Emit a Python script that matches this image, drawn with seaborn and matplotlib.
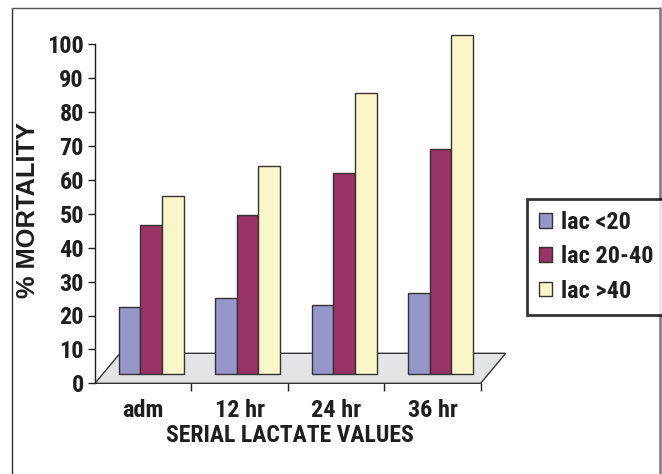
import matplotlib
matplotlib.use("Agg")
import matplotlib.pyplot as plt
from matplotlib.patches import Polygon, Patch
from matplotlib.lines import Line2D
import seaborn as sns
import pandas as pd

# ---- data -------------------------------------------------------------
categories = ["adm", "12 hr", "24 hr", "36 hr"]
groups = ["lac <20", "lac 20-40", "lac >40"]
lac_lt20 = [20, 22.5, 20.5, 24]
lac_20_40 = [44, 47, 59.5, 66.5]
lac_gt40 = [52.5, 61.5, 83, 100]
y_ticks = list(range(0, 101, 10))

colors = ["#9696c8", "#993366", "#faf6c8"]

df = pd.DataFrame({
    "time": categories * 3,
    "group": [g for g in groups for _ in categories],
    "mortality": lac_lt20 + lac_20_40 + lac_gt40,
})

# ---- style ------------------------------------------------------------
sns.set_theme(style="white")
NARROW = ["Roboto Condensed", "DejaVu Sans"]
WIDE = ["Liberation Sans", "DejaVu Sans"]
plt.rcParams["font.family"] = NARROW
plt.rcParams["font.weight"] = "bold"
FS = 17.5
INK = "#1e1e1e"

W, H = 662, 474
fig = plt.figure(figsize=(W / 100, H / 100), dpi=100)
fig.patch.set_facecolor("white")


def box(x0, y_top, x1, y_bot):
    return [x0 / W, 1 - y_bot / H, (x1 - x0) / W, (y_bot - y_top) / H]


# front plane: value axis, category ticks and the floor
ax_front = fig.add_axes(box(95, 44.3, 480.7, 383.3))
ax_front.set_facecolor("none")
ax_front.set_xlim(-0.5, 3.5)
ax_front.set_ylim(0, 100)
for s in ("top", "right", "bottom"):
    ax_front.spines[s].set_visible(False)
ax_front.spines["left"].set_color(INK)
ax_front.spines["left"].set_linewidth(1.0)
ax_front.set_yticks(y_ticks)
ax_front.set_yticklabels([str(t) for t in y_ticks], fontsize=FS, color=INK,
                         fontweight="bold")
ax_front.tick_params(axis="y", direction="out", length=5, width=1,
                     color=INK, pad=3, left=True)
ax_front.set_xticks(range(len(categories)))
ax_front.set_xticklabels(categories, fontsize=FS, color=INK, fontweight="bold")
ax_front.set_xticks([i + 0.5 for i in range(len(categories))], minor=True)
ax_front.tick_params(axis="x", which="major", length=0, pad=11, bottom=True)
ax_front.tick_params(axis="x", which="minor", direction="out", length=6,
                     width=1, color=INK, bottom=True)
ax_front.grid(False)

# floor of the plot box, receding back and to the right
dx, dz = 25 / 96.43, 30 / 3.39
floor = Polygon([(-0.5, 0), (3.5, 0), (3.5 + dx, dz), (-0.5 + dx, dz)],
                closed=True, facecolor="#e3e4e6", edgecolor="#333333",
                linewidth=1.0, clip_on=False, zorder=1)
ax_front.add_patch(floor)

# bar plane, set a little back into the box
ax_bar = fig.add_axes(box(103, 35.3, 488.7, 374.3))
ax_bar.set_facecolor("none")
sns.barplot(data=df, x="time", y="mortality", hue="group", hue_order=groups,
            order=categories, palette=colors, saturation=1, width=0.675,
            errorbar=None, edgecolor="#333333", linewidth=1.0, legend=False,
            ax=ax_bar)
ax_bar.set_xlim(-0.5, 3.5)
ax_bar.set_ylim(0, 100)
ax_bar.axis("off")
for p in ax_bar.patches:
    p.set_clip_on(False)

# axis titles
fig.text(28 / W, 1 - 210.5 / H, "% MORTALITY", rotation=90, ha="center",
         va="center", fontsize=18.3, fontweight="bold", family=WIDE, color=INK)
fig.text(289.8 / W, 1 - 436 / H, "SERIAL LACTATE VALUES", ha="center",
         va="center", fontsize=17, fontweight="bold", color=INK)

# legend
handles = [Patch(facecolor=c, edgecolor="#333333", linewidth=1.0, label=g)
           for c, g in zip(colors, groups)]
leg = fig.legend(handles=handles, loc="upper left",
                 bbox_to_anchor=(526.7 / W, 1 - 199 / H), frameon=True,
                 fancybox=False, shadow=False, fontsize=FS,
                 handlelength=0.55, handleheight=0.55, handletextpad=0.35,
                 labelspacing=0.46, borderpad=0.5, borderaxespad=0)
leg.get_frame().set_edgecolor("black")
leg.get_frame().set_linewidth(2.0)
for t in leg.get_texts():
    t.set_color(INK)
    t.set_fontweight("bold")

# outer chart frame
fig.add_artist(Line2D([12.3 / W, 12.3 / W], [0, 1 - 7.7 / H], color="#333333",
                      linewidth=1.0, transform=fig.transFigure))
fig.add_artist(Line2D([12.3 / W, 659.5 / W], [1 - 7.7 / H, 1 - 7.7 / H],
                      color="#555555", linewidth=1.0, transform=fig.transFigure))
fig.add_artist(Line2D([659.5 / W, 659.5 / W], [0, 1 - 7.7 / H], color="#777777",
                      linewidth=1.8, transform=fig.transFigure))

fig.savefig("out.png", dpi=100)
